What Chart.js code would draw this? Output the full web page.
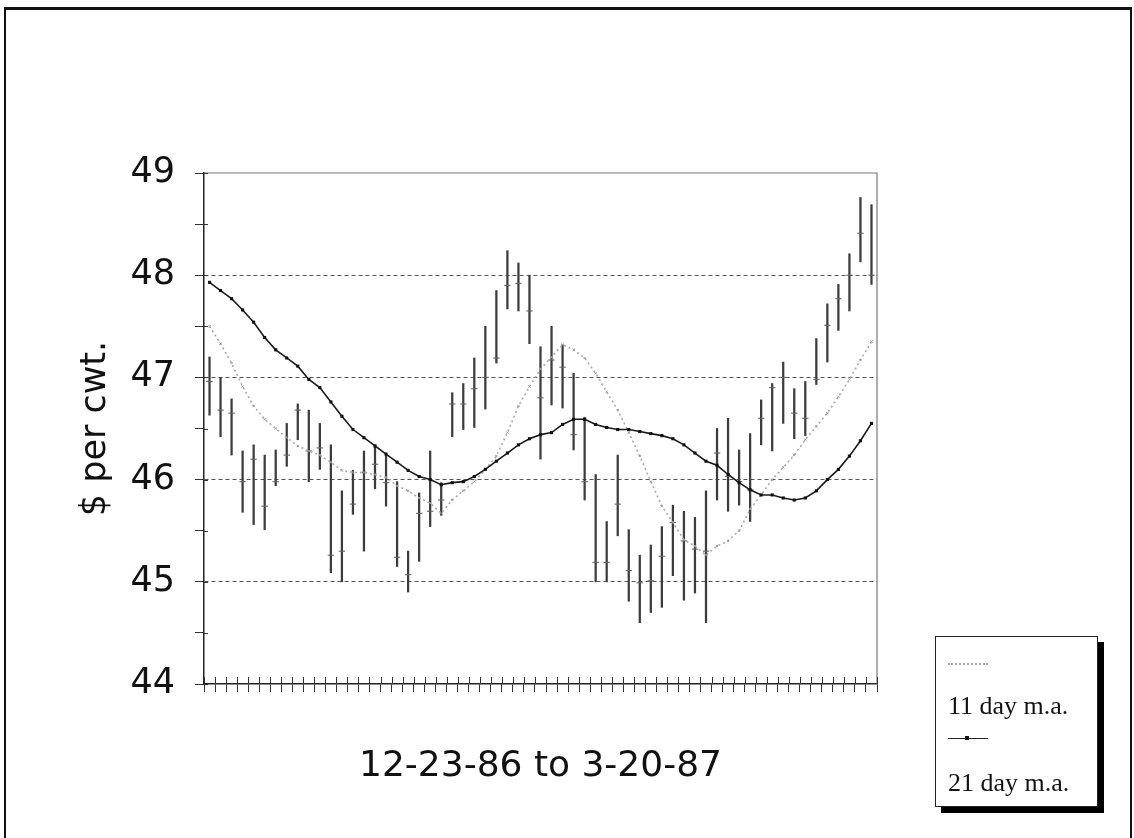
<!DOCTYPE html>
<html lang="en">
<head>
  <meta charset="UTF-8">
  <title>$ per cwt. 12-23-86 to 3-20-87</title>
  <script src="https://cdn.jsdelivr.net/npm/chart.js"></script>
  <style>
    body {
      margin: 0;
      background: #fff;
      width: 1134px;
      height: 838px;
      position: relative;
      overflow: hidden;
    }
    #frame {
      position: absolute;
      left: 4px;
      top: 7px;
      width: 1124px;
      height: 840px;
      border: 2px solid #111;
      border-top-width: 3px;
      pointer-events: none;
    }
    #chart {
      position: absolute;
      left: 0;
      top: 0;
    }
    #legend {
      position: absolute;
      left: 935px;
      top: 636px;
      width: 161px;
      height: 169px;
      border: 1px solid #222;
      background: #fff;
      box-shadow: 6px 6px 0 #000;
      font-family: "Liberation Serif", "Times New Roman", serif;
      font-size: 26px;
      color: #111;
    }
    #legend .sym {
      position: absolute;
      left: 12px;
      width: 40px;
      height: 0;
    }
    #legend .dotted { top: 26px; border-top: 2px dotted #aaa; }
    #legend .solid { top: 101px; border-top: 1.5px solid #222; }
    #legend .solid span {
      position: absolute;
      left: 17px;
      top: -3px;
      width: 4px;
      height: 4px;
      background: #111;
    }
    #legend .lbl {
      position: absolute;
      left: 12px;
      line-height: 30px;
      white-space: nowrap;
    }
  </style>
</head>
<body>
  <canvas id="chart" width="1134" height="838"></canvas>
  <div id="legend">
    <div class="sym dotted"></div>
    <div class="lbl" style="top:54px">11 day m.a.</div>
    <div class="sym solid"><span></span></div>
    <div class="lbl" style="top:131px">21 day m.a.</div>
  </div>
  <div id="frame"></div>
  <script>
    // trading days 12-23-86 .. 3-20-87
    const days = [
      '12-23-86','12-24-86','12-26-86','12-29-86','12-30-86','12-31-86',
      '1-2-87','1-5-87','1-6-87','1-7-87','1-8-87','1-9-87','1-12-87','1-13-87','1-14-87','1-15-87','1-16-87',
      '1-19-87','1-20-87','1-21-87','1-22-87','1-23-87','1-26-87','1-27-87','1-28-87','1-29-87','1-30-87',
      '2-2-87','2-3-87','2-4-87','2-5-87','2-6-87','2-9-87','2-10-87','2-11-87','2-12-87','2-13-87',
      '2-17-87','2-18-87','2-19-87','2-20-87','2-23-87','2-24-87','2-25-87','2-26-87','2-27-87',
      '3-2-87','3-3-87','3-4-87','3-5-87','3-6-87','3-9-87','3-10-87','3-11-87','3-12-87','3-13-87',
      '3-16-87','3-17-87','3-18-87','3-19-87','3-20-87'
    ];

    const high = [
      47.20, 47.00, 46.79, 46.28, 46.34, 46.24, 46.29, 46.55, 46.74, 46.68,
      46.55, 46.34, 45.89, 46.09, 46.28, 46.33, 46.24, 45.98, 45.30, 45.87,
      46.28, 45.97, 46.85, 46.94, 47.19, 47.50, 47.85, 48.24, 48.12, 48.00,
      47.30, 47.50, 47.32, 47.04, 46.61, 46.05, 45.59, 46.24, 45.51, 45.26,
      45.36, 45.54, 45.75, 45.69, 45.63, 45.89, 46.50, 46.60, 46.29, 46.45,
      46.78, 46.94, 47.15, 46.89, 46.96, 47.38, 47.72, 47.91, 48.21, 48.76, 48.69
    ];
    const low = [
      46.63, 46.42, 46.24, 45.68, 45.56, 45.51, 45.94, 46.13, 46.39, 45.98,
      46.10, 45.09, 45.00, 45.66, 45.30, 45.91, 45.74, 45.15, 44.90, 45.20,
      45.54, 45.65, 46.42, 46.49, 46.51, 46.69, 47.14, 47.67, 47.65, 47.33,
      46.20, 46.73, 46.70, 46.29, 45.80, 45.00, 45.00, 45.45, 44.81, 44.60,
      44.70, 44.75, 45.06, 44.82, 44.89, 44.60, 45.80, 45.69, 45.75, 45.59,
      46.34, 46.28, 46.55, 46.40, 46.43, 46.93, 47.15, 47.46, 47.65, 48.13, 47.91
    ];
    const close = [
      46.96, 46.68, 46.65, 45.98, 46.20, 45.74, 45.98, 46.24, 46.68, 46.28,
      46.31, 45.26, 45.30, 45.76, 46.07, 46.15, 45.97, 45.24, 45.07, 45.67,
      45.69, 45.80, 46.74, 46.74, 46.89, 47.00, 47.19, 47.90, 47.92, 47.65,
      46.80, 47.17, 47.10, 46.44, 45.98, 45.19, 45.19, 45.76, 45.11, 44.99,
      45.01, 45.25, 45.58, 45.40, 45.32, 45.30, 46.26, 46.03, 45.98, 45.90,
      46.60, 46.90, 47.00, 46.65, 46.60, 46.98, 47.51, 47.77, 48.00, 48.41, 48.00
    ];
    const ma11 = [
      47.50, 47.33, 47.14, 46.91, 46.72, 46.59, 46.50, 46.41, 46.33, 46.28,
      46.24, 46.17, 46.09, 46.07, 46.07, 46.05, 46.02, 45.94, 45.89, 45.82,
      45.77, 45.67, 45.80, 45.89, 45.98, 46.10, 46.23, 46.46, 46.72, 46.91,
      47.08, 47.20, 47.32, 47.27, 47.19, 47.04, 46.86, 46.68, 46.46, 46.23,
      45.98, 45.74, 45.58, 45.41, 45.35, 45.26, 45.35, 45.40, 45.50, 45.71,
      45.85, 46.00, 46.12, 46.24, 46.39, 46.52, 46.65, 46.81, 46.98, 47.17, 47.35
    ];
    const ma21 = [
      47.93, 47.85, 47.77, 47.66, 47.54, 47.39, 47.27, 47.19, 47.11, 46.98,
      46.90, 46.76, 46.62, 46.49, 46.41, 46.33, 46.25, 46.17, 46.09, 46.03,
      46.00, 45.95, 45.97, 45.98, 46.03, 46.10, 46.18, 46.26, 46.34, 46.40,
      46.44, 46.46, 46.54, 46.59, 46.59, 46.54, 46.51, 46.49, 46.49, 46.47,
      46.45, 46.43, 46.40, 46.34, 46.26, 46.18, 46.14, 46.05, 45.97, 45.90,
      45.85, 45.85, 45.82, 45.80, 45.82, 45.89, 46.00, 46.10, 46.23, 46.38, 46.55
    ];

    const yMin = 44;
    const yMax = 49;
    const yStep = 0.5;

    const ranges = days.map((d, i) => [low[i], high[i]]);
    const font = 'DejaVu Sans';

    // plot frame on top/right + tick marks that also run inside the axes
    const extras = {
      id: 'extras',
      beforeDatasetsDraw(chart) {
        const { ctx, chartArea: a } = chart;
        ctx.save();
        ctx.strokeStyle = '#777';
        ctx.lineWidth = 1.2;
        ctx.beginPath();
        ctx.moveTo(a.left, a.top);
        ctx.lineTo(a.right, a.top);
        ctx.lineTo(a.right, a.bottom);
        ctx.stroke();
        ctx.restore();
      },
      afterDraw(chart) {
        const { ctx, scales: { x, y } } = chart;
        ctx.save();
        ctx.strokeStyle = '#333';
        ctx.lineWidth = 1;
        const n = days.length;
        const step = (x.right - x.left) / n;
        ctx.beginPath();
        for (let i = 0; i <= n; i++) {
          const px = Math.round(x.left + i * step) + 0.5;
          ctx.moveTo(px, y.bottom - 7);
          ctx.lineTo(px, y.bottom);
        }
        y.ticks.forEach(t => {
          const py = Math.round(y.getPixelForValue(t.value)) + 0.5;
          ctx.moveTo(x.left, py);
          ctx.lineTo(x.left + 4, py);
        });
        ctx.stroke();
        ctx.restore();
      }
    };

    new Chart(document.getElementById('chart'), {
      type: 'bar',
      data: {
        labels: days,
        datasets: [
          {
            type: 'line',
            label: '21 day m.a.',
            data: ma21,
            borderColor: '#1a1a1a',
            backgroundColor: '#111',
            borderWidth: 1.6,
            pointStyle: 'rect',
            pointRadius: 2.2,
            pointBorderWidth: 0,
            tension: 0,
            order: 0
          },
          {
            type: 'line',
            label: '11 day m.a.',
            data: ma11,
            borderColor: '#aaa',
            borderDash: [2, 3],
            borderWidth: 1.6,
            pointStyle: 'crossRot',
            pointRadius: 1.6,
            pointBorderColor: '#999',
            pointBorderWidth: 1,
            tension: 0,
            order: 1
          },
          {
            type: 'line',
            label: 'close',
            data: close,
            showLine: false,
            pointStyle: 'line',
            pointRadius: 3.2,
            pointBorderWidth: 1.1,
            borderColor: '#666',
            order: 2
          },
          {
            type: 'bar',
            label: 'high-low',
            data: ranges,
            backgroundColor: '#3c3c3c',
            barThickness: 1.6,
            order: 3
          }
        ]
      },
      options: {
        responsive: false,
        animation: false,
        devicePixelRatio: 1,
        layout: { padding: { left: 50, right: 257, top: 173, bottom: 0 } },
        plugins: {
          legend: { display: false },
          tooltip: { enabled: false }
        },
        scales: {
          x: {
            offset: true,
            grid: {
              display: true,
              drawOnChartArea: false,
              drawTicks: true,
              tickLength: 8,
              tickColor: '#333',
              offset: true
            },
            border: { display: true, color: '#222', width: 1.5 },
            ticks: { display: false },
            title: {
              display: true,
              text: '12-23-86 to 3-20-87',
              color: '#111',
              font: { family: font, size: 36 },
              padding: { top: 0, bottom: 50 }
            },
            afterFit(s) { s.height = 154; }
          },
          y: {
            min: yMin,
            max: yMax,
            ticks: {
              stepSize: yStep,
              autoSkip: false,
              padding: 20,
              color: '#111',
              font: { family: font, size: 35 },
              callback: v => Number.isInteger(v) ? v : ''
            },
            grid: {
              color: c => (c.tick && Number.isInteger(c.tick.value) && c.tick.value > yMin && c.tick.value < yMax) ? '#555' : 'rgba(0,0,0,0)',
              lineWidth: 1,
              tickLength: 9,
              tickColor: '#333',
              tickWidth: 1
            },
            border: { display: true, color: '#222', width: 1.5, dash: [4, 3] },
            title: {
              display: true,
              text: '$ per cwt.',
              color: '#111',
              font: { family: font, size: 35 },
              padding: { top: 25, bottom: 0 }
            },
            afterFit(s) { s.width = 154; }
          }
        }
      },
      plugins: [extras]
    });
  </script>
</body>
</html>
